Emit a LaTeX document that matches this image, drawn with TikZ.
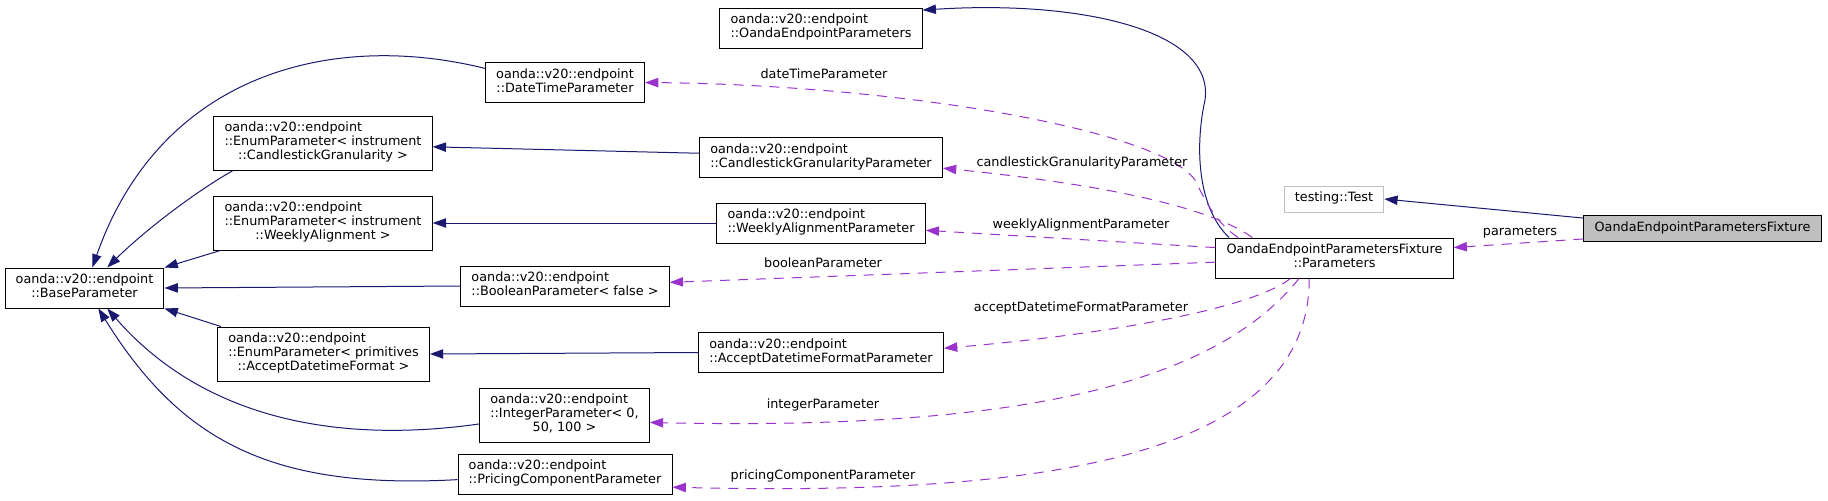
\documentclass[tikz,border=0pt]{standalone}
\usepackage{fontspec}
\setmainfont{DejaVu Sans}
\usepackage{tikz}
\usetikzlibrary{arrows.meta}
\definecolor{edgenavy}{HTML}{191970}
\definecolor{edgepurple}{HTML}{9A32CD}
\definecolor{boxgray}{HTML}{BFBFBF}
\newcommand{\clstext}[2]{\begin{tabular}{@{}l@{}}#1\\\multicolumn{1}{@{}c@{}}{#2}\end{tabular}}

\begin{document}
\begin{tikzpicture}[x=0.75pt, y=-0.75pt,
    every node/.style={font=\fontsize{9.6pt}{10.5pt}\selectfont},
    cls/.style={draw, line width=0.75pt, fill=white, inner xsep=8pt, inner ysep=4.5pt},
    inh/.style={edgenavy, line width=0.75pt, -{Triangle[length=10pt,width=7pt]}},
    usage/.style={edgepurple, line width=0.75pt, dash pattern=on 7.5pt off 6pt, -{Triangle[length=10pt,width=7pt]}},
    lbl/.style={inner sep=0pt}]
    \useasboundingbox (0,0) rectangle (1828,500);
    \node[cls] (oep) at (821,28) {\clstext{oanda::v20::endpoint}{::OandaEndpointParameters}};
    \node[cls] (dtp) at (565,82.5) {\clstext{oanda::v20::endpoint}{::DateTimeParameter}};
    \node[cls] (ecg) at (323,143) {\clstext{oanda::v20::endpoint\\::EnumParameter< instrument}{::CandlestickGranularity >}};
    \node[cls] (cgp) at (821,157.5) {\clstext{oanda::v20::endpoint}{::CandlestickGranularityParameter}};
    \node[cls] (ewa) at (323,223) {\clstext{oanda::v20::endpoint\\::EnumParameter< instrument}{::WeeklyAlignment >}};
    \node[cls] (wap) at (821,223) {\clstext{oanda::v20::endpoint}{::WeeklyAlignmentParameter}};
    \node[cls] (base) at (84.5,288) {\clstext{oanda::v20::endpoint}{::BaseParameter}};
    \node[cls] (bool) at (565,286) {\clstext{oanda::v20::endpoint}{::BooleanParameter< false >}};
    \node[cls] (ead) at (323.5,354) {\clstext{oanda::v20::endpoint\\::EnumParameter< primitives}{::AcceptDatetimeFormat >}};
    \node[cls] (adf) at (821,352.5) {\clstext{oanda::v20::endpoint}{::AcceptDatetimeFormatParameter}};
    \node[cls] (intp) at (564.5,415) {\clstext{oanda::v20::endpoint\\::IntegerParameter< 0,}{50, 100 >}};
    \node[cls] (pcp) at (565,474) {\clstext{oanda::v20::endpoint}{::PricingComponentParameter}};
    \node[cls, draw=boxgray] (test) at (1334,199) {\strut testing::Test};
    \node[cls] (par) at (1334.5,258) {\clstext{OandaEndpointParametersFixture}{::Parameters}};
    \node[cls, fill=boxgray] (fix) at (1702.5,228.5) {\strut OandaEndpointParametersFixture};

    \draw[inh] (fix.175) -- (test.east);
    \draw[usage] (fix.185) -- (par.5);
    \draw[inh] (par.169) .. controls (1195,205) and (1196,140) .. (1205,100) .. controls (1215,30) and (1080,0) .. (oep.10);
    \draw[usage] (par.168) .. controls (1215,222) and (1205,200) .. (1195,180) .. controls (1160,130) and (900,85) .. (dtp.east);
    \draw[usage] (par.166) .. controls (1200,200) and (1060,180) .. (cgp.-5);
    \draw[usage] (par.175) -- (wap.-4);
    \draw[usage] (par.182) -- (bool.2);
    \draw[usage] (par.205) .. controls (1250,310) and (1100,335) .. (adf.2);
    \draw[usage] (par.210) .. controls (1210,390) and (1000,430) .. (intp.-5);
    \draw[usage] (par.219) .. controls (1310,470) and (1000,495) .. (pcp.-7);

    \draw[inh] (cgp.178) -- (ecg.-2);
    \draw[inh] (wap.west) -- (ewa.east);
    \draw[inh] (adf.west) -- (ead.east);
    \draw[inh] (dtp.170) .. controls (330,30) and (160,75) .. (base.69);
    \draw[inh] (ecg.197) .. controls (190,195) and (140,235) .. (base.42);
    \draw[inh] (ewa.195) -- (base.north east);
    \draw[inh] (bool.west) -- (base.east);
    \draw[inh] (ead.165) -- (base.south east);
    \draw[inh] (intp.186) .. controls (330,445) and (200,415) .. (base.-42);
    \draw[inh] (pcp.183) .. controls (270,490) and (180,440) .. (base.-56);

    \node[lbl] (lparam) at (1520,232) {parameters};
    \node[lbl] (ldate) at (824,74) {dateTimeParameter};
    \node[lbl] (lcandle) at (1082,163) {candlestickGranularityParameter};
    \node[lbl] (lweekly) at (1081,225) {weeklyAlignmentParameter};
    \node[lbl] (lbool) at (823,263) {booleanParameter};
    \node[lbl] (laccept) at (1081,308) {acceptDatetimeFormatParameter};
    \node[lbl] (lint) at (823,405) {integerParameter};
    \node[lbl] (lpricing) at (823,476) {pricingComponentParameter};
\end{tikzpicture}
\end{document}
